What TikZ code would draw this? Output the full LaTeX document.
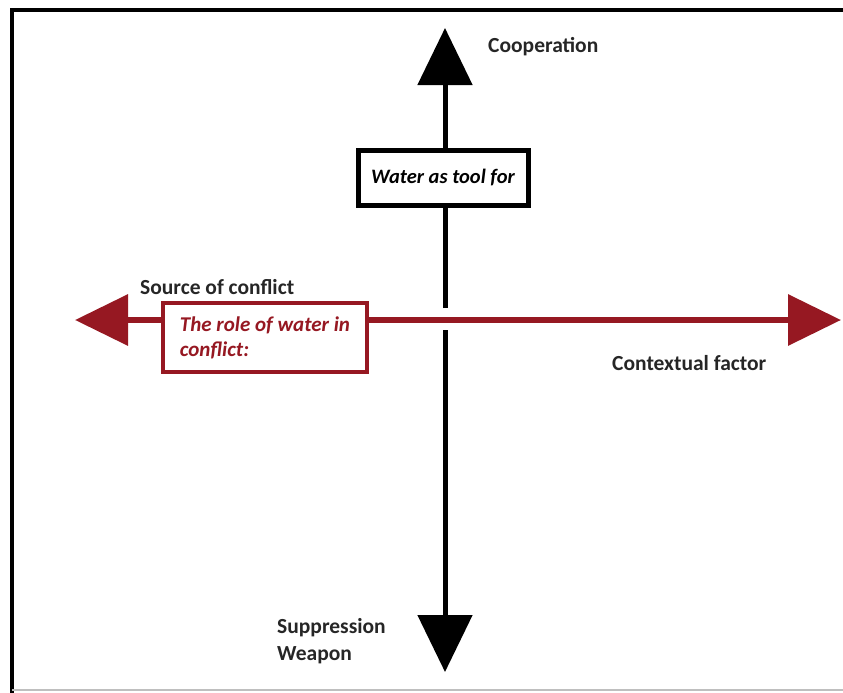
\documentclass[tikz,border=0pt]{standalone}
\usepackage{fontspec}
\setmainfont{Carlito}
\usetikzlibrary{arrows.meta}
\definecolor{wred}{RGB}{150,24,34}
\begin{document}
\begin{tikzpicture}[x=1pt,y=-1pt,
  lbl/.style={font=\bfseries\fontsize{21.5}{27}\selectfont, text=black!85, inner sep=0pt},
  blackarr/.style={line width=5pt, draw=black, -{Triangle[length=57pt,width=54pt]}},
  redarr/.style={line width=6.5pt, draw=wred, {Triangle[length=53pt,width=50pt]}-{Triangle[length=53pt,width=50pt]}},
  boxk/.style={draw=black, line width=5pt, fill=white, minimum width=170pt, minimum height=55pt, inner sep=0pt,
     font=\bfseries\itshape\fontsize{20.5}{24}\selectfont},
  boxr/.style={draw=wred, line width=4pt, fill=white, minimum width=204pt, minimum height=69pt, inner sep=0pt,
     text=wred, align=left, font=\bfseries\itshape\fontsize{21}{25}\selectfont}
]
\useasboundingbox (0,0) rectangle (843,693);
% outer frame
\draw[line width=4pt, black] (12,693) -- (12,10) -- (843,10);
\draw[line width=1.5pt, black!25] (12,690) -- (843,690);

\coordinate (vtop) at (445,28);
\coordinate (vbot) at (445,672);
\coordinate (gtop) at (445,308);
\coordinate (gbot) at (445,330);
\coordinate (hleft) at (75,320);
\coordinate (hright) at (841,320);

\draw[blackarr] (gtop) -- (vtop);
\draw[blackarr] (gbot) -- (vbot);
\draw[redarr] (hleft) -- (hright);

\node[boxk] (tool) at (443,177.5) {Water as tool for};
\node[boxr] (role) at (265,337.5) {The role of water in\\conflict:};

\node[lbl, anchor=west] (coop) at (488,47) {Cooperation};
\node[lbl, anchor=west] (src) at (140,287) {Source of conflict};
\node[lbl, anchor=west] (ctx) at (612,363) {Contextual factor};
\node[lbl, anchor=west, align=left] (sup) at (277,641) {Suppression\\Weapon};
\end{tikzpicture}
\end{document}
